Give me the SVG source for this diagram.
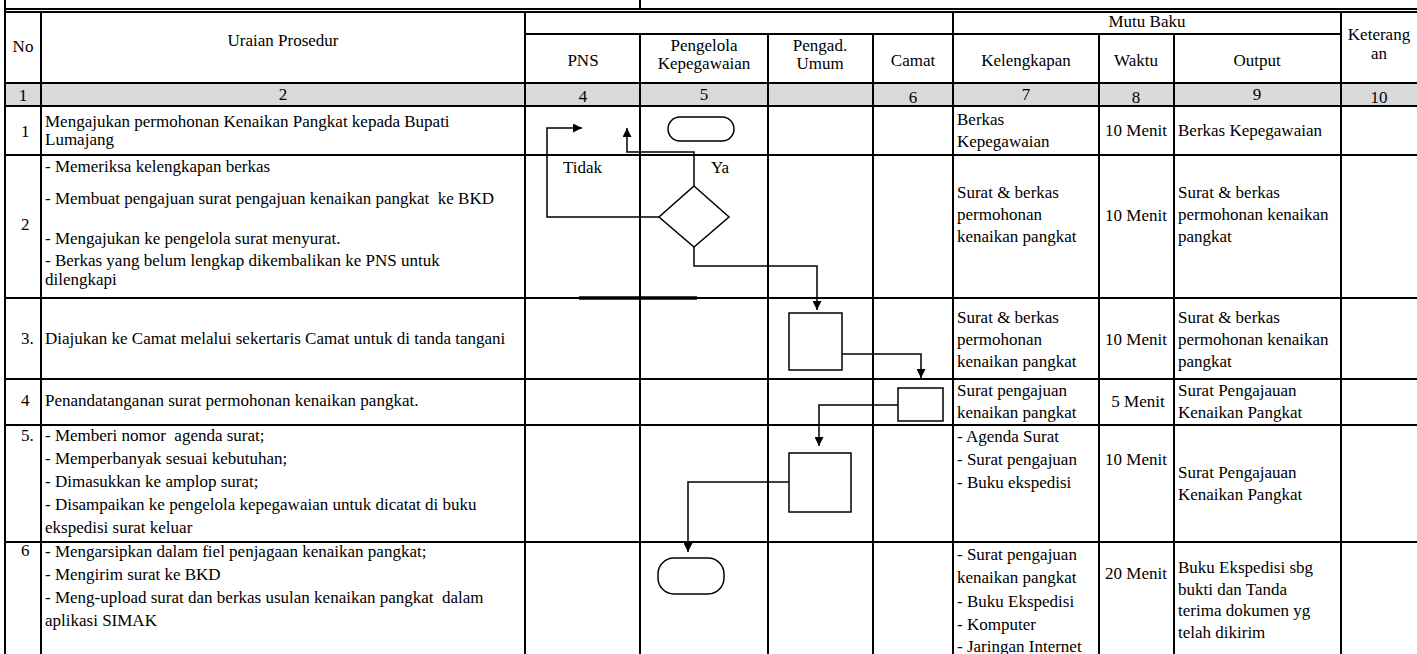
<svg xmlns="http://www.w3.org/2000/svg" width="1417" height="654" viewBox="0 0 1417 654">
<style>
.t{font-family:"Liberation Serif","Times New Roman",serif;font-size:17px;fill:#000;white-space:pre}
.c{text-anchor:middle}
.g{stroke:#000;stroke-width:2;fill:none}
.sh{stroke:#000;stroke-width:1.5;fill:#fff}
.cn{stroke:#000;stroke-width:1.5;fill:none}
</style>
<defs>
<marker id="ah" viewBox="0 0 10 10" refX="10" refY="5" markerWidth="9" markerHeight="9" markerUnits="userSpaceOnUse" orient="auto">
<path d="M0,0 L10,5 L0,10 z" fill="#000"/>
</marker>
</defs>
<rect width="1417" height="654" fill="#fff"/>

<g id="table">
<rect x="5" y="83" width="1412" height="23" fill="#d9d9d9"/>
<g class="g">
<path d="M5,0 V9 M640,0 V9"/>
<path d="M4,9 H1417 M4,12 H1417"/>
<path d="M526,34 H1341"/>
<path d="M5,83 H1417 M5,106 H1417 M5,155 H1417 M5,298 H1417 M5,379 H1417 M5,425 H1417 M5,542 H1417"/>
<path d="M5,9 V654 M41,12 V654 M525,12 V654 M953,12 V654 M1341,12 V654"/>
<path d="M640,34 V654 M768,34 V654 M873,34 V654 M1099,34 V654 M1174,34 V654"/>
</g>
<path d="M579,298 H697" stroke="#000" stroke-width="3.5"/>
</g>

<g id="header">
<text class="t c" x="23" y="52">No</text>
<text class="t c" x="283" y="46">Uraian Prosedur</text>
<text class="t c" x="583" y="66">PNS</text>
<text class="t c" x="704" y="51">Pengelola</text>
<text class="t c" x="704" y="69">Kepegawaian</text>
<text class="t c" x="820" y="51">Pengad.</text>
<text class="t c" x="820" y="69">Umum</text>
<text class="t c" x="913" y="66">Camat</text>
<text class="t c" x="1147" y="27">Mutu Baku</text>
<text class="t c" x="1026" y="66">Kelengkapan</text>
<text class="t c" x="1136" y="66">Waktu</text>
<text class="t c" x="1257" y="66">Output</text>
<text class="t c" x="1379" y="40">Keterang</text>
<text class="t c" x="1379" y="59">an</text>
<text class="t c" x="23" y="101">1</text>
<text class="t c" x="283" y="100">2</text>
<text class="t c" x="583" y="102">4</text>
<text class="t c" x="704" y="100">5</text>
<text class="t c" x="913" y="103">6</text>
<text class="t c" x="1026" y="100">7</text>
<text class="t c" x="1136" y="103">8</text>
<text class="t c" x="1257" y="100">9</text>
<text class="t c" x="1379" y="103">10</text>
</g>

<g id="row1">
<text class="t" x="21" y="137">1</text>
<text class="t" x="45" y="127">Mengajukan permohonan Kenaikan Pangkat kepada Bupati</text>
<text class="t" x="45" y="145">Lumajang</text>
<text class="t" x="957" y="125">Berkas</text>
<text class="t" x="957" y="147">Kepegawaian</text>
<text class="t c" x="1136" y="136">10 Menit</text>
<text class="t" x="1178" y="136">Berkas Kepegawaian</text>
</g>

<g id="row2">
<text class="t" x="21" y="230">2</text>
<text class="t" x="45" y="172">- Memeriksa kelengkapan berkas</text>
<text class="t" x="45" y="204">- Membuat pengajuan surat pengajuan kenaikan pangkat  ke BKD</text>
<text class="t" x="45" y="244">- Mengajukan ke pengelola surat menyurat.</text>
<text class="t" x="45" y="266">- Berkas yang belum lengkap dikembalikan ke PNS untuk</text>
<text class="t" x="45" y="285">dilengkapi</text>
<text class="t" x="957" y="198">Surat &amp; berkas</text>
<text class="t" x="957" y="220">permohonan</text>
<text class="t" x="957" y="242">kenaikan pangkat</text>
<text class="t c" x="1136" y="221">10 Menit</text>
<text class="t" x="1178" y="198">Surat &amp; berkas</text>
<text class="t" x="1178" y="220">permohonan kenaikan</text>
<text class="t" x="1178" y="242">pangkat</text>
</g>

<g id="row3">
<text class="t" x="21" y="344">3.</text>
<text class="t" x="45" y="344">Diajukan ke Camat melalui sekertaris Camat untuk di tanda tangani</text>
<text class="t" x="957" y="323">Surat &amp; berkas</text>
<text class="t" x="957" y="345">permohonan</text>
<text class="t" x="957" y="367">kenaikan pangkat</text>
<text class="t c" x="1136" y="345">10 Menit</text>
<text class="t" x="1178" y="323">Surat &amp; berkas</text>
<text class="t" x="1178" y="345">permohonan kenaikan</text>
<text class="t" x="1178" y="367">pangkat</text>
</g>

<g id="row4">
<text class="t" x="21" y="406">4</text>
<text class="t" x="45" y="406">Penandatanganan surat permohonan kenaikan pangkat.</text>
<text class="t" x="957" y="396">Surat pengajuan</text>
<text class="t" x="957" y="418">kenaikan pangkat</text>
<text class="t c" x="1138" y="407">5 Menit</text>
<text class="t" x="1178" y="396">Surat Pengajauan</text>
<text class="t" x="1178" y="418">Kenaikan Pangkat</text>
</g>

<g id="row5">
<text class="t" x="21" y="441">5.</text>
<text class="t" x="45" y="441">- Memberi nomor  agenda surat;</text>
<text class="t" x="45" y="464">- Memperbanyak sesuai kebutuhan;</text>
<text class="t" x="45" y="487">- Dimasukkan ke amplop surat;</text>
<text class="t" x="45" y="510">- Disampaikan ke pengelola kepegawaian untuk dicatat di buku</text>
<text class="t" x="45" y="533">ekspedisi surat keluar</text>
<text class="t" x="957" y="442">- Agenda Surat</text>
<text class="t" x="957" y="465">- Surat pengajuan</text>
<text class="t" x="957" y="488">- Buku ekspedisi</text>
<text class="t c" x="1136" y="465">10 Menit</text>
<text class="t" x="1178" y="478">Surat Pengajauan</text>
<text class="t" x="1178" y="500">Kenaikan Pangkat</text>
</g>

<g id="row6">
<text class="t" x="21" y="556">6</text>
<text class="t" x="45" y="557">- Mengarsipkan dalam fiel penjagaan kenaikan pangkat;</text>
<text class="t" x="45" y="580">- Mengirim surat ke BKD</text>
<text class="t" x="45" y="603">- Meng-upload surat dan berkas usulan kenaikan pangkat  dalam</text>
<text class="t" x="45" y="626">aplikasi SIMAK</text>
<text class="t" x="957" y="560">- Surat pengajuan</text>
<text class="t" x="957" y="583">kenaikan pangkat</text>
<text class="t" x="957" y="607">- Buku Ekspedisi</text>
<text class="t" x="957" y="630">- Komputer</text>
<text class="t" x="957" y="652">- Jaringan Internet</text>
<text class="t c" x="1136" y="579">20 Menit</text>
<text class="t" x="1178" y="573">Buku Ekspedisi sbg</text>
<text class="t" x="1178" y="595">bukti dan Tanda</text>
<text class="t" x="1178" y="616">terima dokumen yg</text>
<text class="t" x="1178" y="638">telah dikirim</text>
</g>

<g id="connectors">
<path class="cn" d="M694,186 V152 H627 V128" marker-end="url(#ah)"/>
<path class="cn" d="M659,217 H547 V128 H582" marker-end="url(#ah)"/>
<path class="cn" d="M694,247 V266 H817 V310" marker-end="url(#ah)"/>
<path class="cn" d="M842,354 H921 V378" marker-end="url(#ah)"/>
<path class="cn" d="M898,405 H819 V446" marker-end="url(#ah)"/>
<path class="cn" d="M789,482 H688 V552" marker-end="url(#ah)"/>
<text class="t" x="563" y="173">Tidak</text>
<text class="t" x="711" y="173">Ya</text>
</g>

<g id="n-start"><rect class="sh" x="668" y="117" width="66" height="24" rx="12"/></g>
<g id="n-decision"><path class="sh" d="M694,186 L729,217 L694,247 L659,217 Z"/></g>
<g id="n-step3"><rect class="sh" x="789" y="313" width="53" height="57"/></g>
<g id="n-step4"><rect class="sh" x="898" y="388" width="45" height="33"/></g>
<g id="n-step5"><rect class="sh" x="789" y="453" width="62" height="59"/></g>
<g id="n-end"><rect class="sh" x="658" y="558" width="66" height="36" rx="16"/></g>
</svg>
